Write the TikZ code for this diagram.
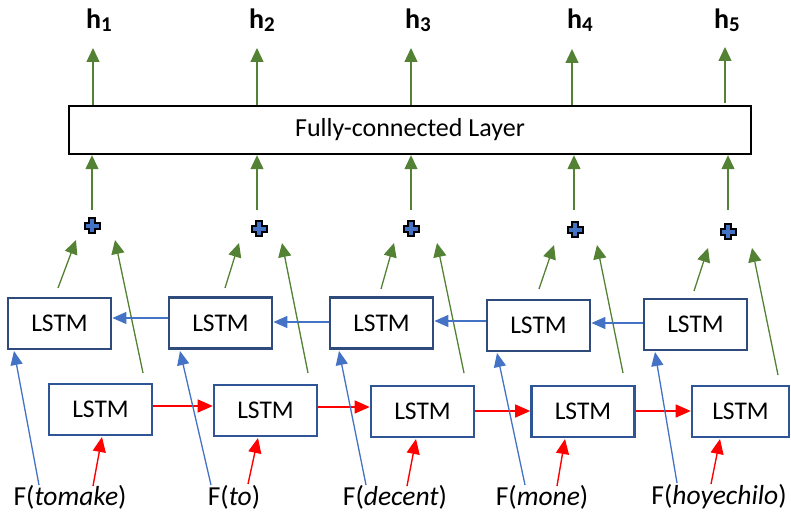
\documentclass[tikz,border=0pt]{standalone}
\usepackage{fontspec}
\setmainfont{Carlito}
\usetikzlibrary{arrows.meta,calc}
\definecolor{grn}{HTML}{548235}
\definecolor{blu}{HTML}{4472C4}
\definecolor{rd}{HTML}{FF0000}
\definecolor{topbox}{HTML}{2F4B7C}
\definecolor{botbox}{HTML}{2F5597}
\newcommand\plussign[1]{\filldraw[fill=blu,draw=black,line width=2pt,line join=miter,shift={(#1)}]
 (-2.8,-7.5) -- (2.8,-7.5) -- (2.8,-2.8) -- (7.5,-2.8) -- (7.5,2.8) -- (2.8,2.8) -- (2.8,7.5) -- (-2.8,7.5) -- (-2.8,2.8) -- (-7.5,2.8) -- (-7.5,-2.8) -- (-2.8,-2.8) -- cycle;}
\begin{document}
\begin{tikzpicture}[x=1pt,y=-1pt,
  lstmtop/.style={draw=topbox,line width=2.8pt,minimum width=103pt,minimum height=51pt,inner sep=0pt,font=\fontsize{25.5}{30}\selectfont},
  lstmbot/.style={draw=botbox,line width=2.6pt,minimum width=103pt,minimum height=51pt,inner sep=0pt,font=\fontsize{25.5}{30}\selectfont},
  greenarr/.style={draw=grn,line width=1.3pt,-{Triangle[width=13pt,length=14pt]}},
  bluearr/.style={draw=blu,line width=1.3pt,-{Triangle[width=12pt,length=14pt]}},
  redarr/.style={draw=rd,line width=1.4pt,-{Triangle[width=13pt,length=15pt]}},
  flabel/.style={font=\fontsize{27.5}{32}\selectfont,inner sep=0pt},
  hlabel/.style={font=\fontsize{28}{32}\selectfont\bfseries,inner sep=0pt}]
\useasboundingbox (0,0) rectangle (791,518);
% fully connected layer
\node[draw=black,line width=2.4pt,minimum width=682pt,minimum height=48pt,inner sep=0pt,font=\fontsize{26}{30}\selectfont] (fc) at (410,130) {Fully-connected Layer};
% h labels
\node[hlabel] (H1) at (99,20) {h\raisebox{-0.2ex}{\fontsize{21}{22}\selectfont 1}};
\node[hlabel] (H2) at (262,20) {h\raisebox{-0.2ex}{\fontsize{21}{22}\selectfont 2}};
\node[hlabel] (H3) at (418,20) {h\raisebox{-0.2ex}{\fontsize{21}{22}\selectfont 3}};
\node[hlabel] (H4) at (580,20) {h\raisebox{-0.2ex}{\fontsize{21}{22}\selectfont 4}};
\node[hlabel] (H5) at (727,20) {h\raisebox{-0.2ex}{\fontsize{21}{22}\selectfont 5}};
% top (backward) LSTMs
\node[lstmtop] (T1) at (59.5,323.5) {LSTM};
\node[lstmtop] (T2) at (220.5,323) {LSTM};
\node[lstmtop] (T3) at (381.5,323) {LSTM};
\node[lstmtop] (T4) at (538.5,325.5) {LSTM};
\node[lstmtop] (T5) at (695.5,324.5) {LSTM};
% bottom (forward) LSTMs
\node[lstmbot] (B1) at (100.5,409.5) {LSTM};
\node[lstmbot] (B2) at (265.5,410.5) {LSTM};
\node[lstmbot] (B3) at (422.5,411.5) {LSTM};
\node[lstmbot] (B4) at (583,411.5) {LSTM};
\node[lstmbot,minimum width=97pt] (B5) at (740.5,411.5) {LSTM};
% input labels
\node[flabel] (F1) at (70,497) {F(\textit{tomake})};
\node[flabel] (F2) at (234,497) {F(\textit{to})};
\node[flabel] (F3) at (395,497) {F(\textit{decent})};
\node[flabel] (F4) at (542,497) {F(\textit{mone})};
\node[flabel] (F5) at (719,497) {F(\textit{hoyechilo})};
% plus nodes
\coordinate (P1) at (92,226);
\coordinate (P2) at (259,229);
\coordinate (P3) at (411,229);
\coordinate (P4) at (575,230);
\coordinate (P5) at (728,232);
\plussign{P1}\plussign{P2}\plussign{P3}\plussign{P4}\plussign{P5}
% arrows from plus to FC, FC to h
\foreach \x in {92,257,411,574,728}{
  \draw[greenarr] (\x,210) -- (fc.south -| \x,0);
}
\draw[greenarr] (fc.north -| 93,0) -- (93,48);
\draw[greenarr] (fc.north -| 257,0) -- (257,48);
\draw[greenarr] (fc.north -| 411,0) -- (411,48);
\draw[greenarr] (fc.north -| 572,0) -- (572,49);
\draw[greenarr] (725,103) -- (725,47);
% green arrows from LSTMs to plus
\draw[greenarr] (58,288) -- (76,240);
\draw[greenarr] (143,373) -- (115,240);
\draw[greenarr] (225,288) -- (239,243);
\draw[greenarr] (308,373) -- (282,243);
\draw[greenarr] (381,289) -- (394,243);
\draw[greenarr] (464,373) -- (437,243);
\draw[greenarr] (539,289) -- (554,245);
\draw[greenarr] (623,373) -- (597,245);
\draw[greenarr] (694,291) -- (708,248);
\draw[greenarr] (778,375) -- (752,248);
% backward blue arrows
\draw[bluearr] (T2.west |- 0,318) -- (T1.east |- 0,318);
\draw[bluearr] (T3.west |- 0,322) -- (T2.east |- 0,322);
\draw[bluearr] (T4.west |- 0,321) -- (T3.east |- 0,321);
\draw[bluearr] (T5.west |- 0,323) -- (T4.east |- 0,323);
% forward red arrows
\draw[redarr] (B1.east |- 0,406) -- (B2.west |- 0,406);
\draw[redarr] (B2.east |- 0,407) -- (B3.west |- 0,407);
\draw[redarr] (B3.east |- 0,411) -- (B4.west |- 0,411);
\draw[redarr] (B4.east |- 0,411) -- (B5.west |- 0,411);
% inputs to backward LSTMs (blue)
\draw[bluearr] (39,485) -- (14,351);
\draw[bluearr] (211,485) -- (180,351);
\draw[bluearr] (366,485) -- (339,351);
\draw[bluearr] (525,485) -- (497,353);
\draw[bluearr] (677,483) -- (655,352);
% inputs to forward LSTMs (red)
\draw[redarr] (93,486) -- (102,437);
\draw[redarr] (248,484) -- (258,438);
\draw[redarr] (407,486) -- (416,439);
\draw[redarr] (557,486) -- (565,439);
\draw[redarr] (711,484) -- (720,439);
\end{tikzpicture}
\end{document}
